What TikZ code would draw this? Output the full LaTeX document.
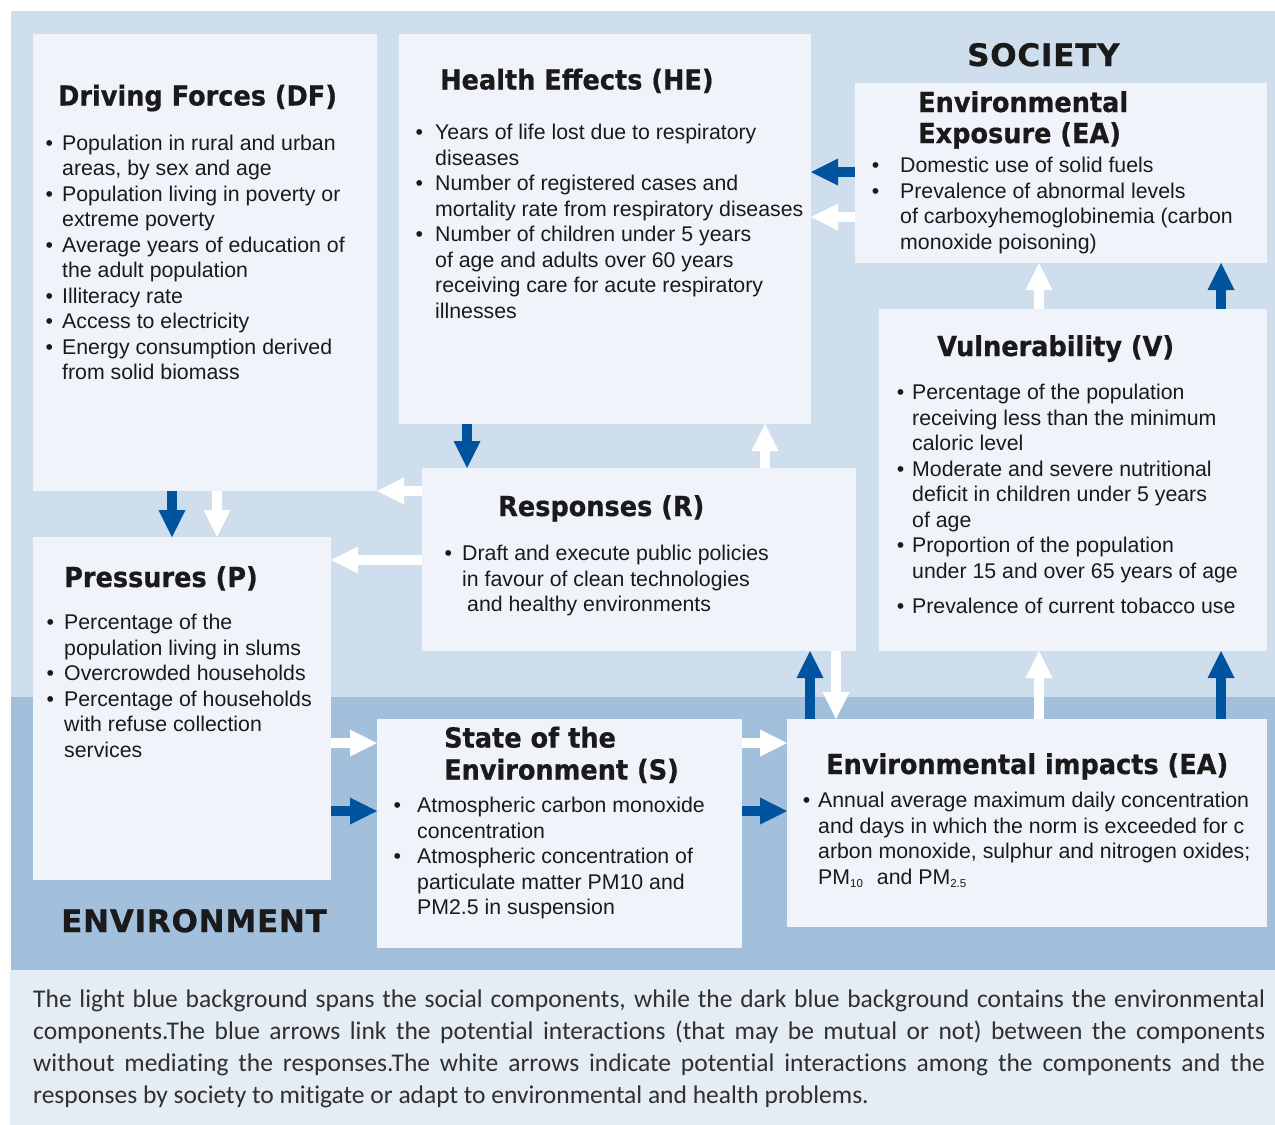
\documentclass[tikz,border=0pt]{standalone}
\usepackage{fontspec}
\setmainfont{Liberation Sans}
\newfontfamily\ttlfont{DejaVu Sans}[FakeStretch=0.93, BoldFeatures={FakeBold=0.7}]
\newfontfamily\hdfont{DejaVu Sans}[BoldFeatures={FakeBold=0.7, LetterSpace=2.5}]
\newfontfamily\capfont{Carlito}[Ligatures=CommonOff]
\usetikzlibrary{arrows.meta,calc}
\definecolor{panellight}{HTML}{CFDEEC}
\definecolor{paneldark}{HTML}{A2C0DC}
\definecolor{boxfill}{HTML}{F0F4FA}
\definecolor{arrblue}{HTML}{00539F}
\definecolor{capbg}{HTML}{E4ECF4}
\definecolor{txt}{HTML}{1A1A1A}
\definecolor{captxt}{HTML}{303030}
\newcommand\fs{\rule{0pt}{16pt}}
\newcommand\bl[1]{\llap{\textbullet\hspace{#1pt}}}
\newcommand\sbs[1]{\raisebox{-3pt}{\fontsize{11.5}{11.5}\selectfont #1}}
\begin{document}
\begin{tikzpicture}[x=1pt,y=-1pt,
  box/.style={fill=boxfill, inner sep=0pt, outer sep=0pt, anchor=north west},
  ttl/.style={font=\ttlfont\bfseries\fontsize{27.5}{31}\selectfont, anchor=base west, inner sep=0pt, text=txt},
  hd/.style={font=\hdfont\bfseries\fontsize{31}{31}\selectfont, anchor=base west, inner sep=0pt, text=txt},
  lst/.style={font=\fontsize{21.3}{25.5}\selectfont, anchor=north west, inner sep=0pt, align=left, text=txt},
  barr/.style={draw=arrblue, line width=10pt, line cap=butt, -{Triangle[length=27pt,width=27pt,line width=0pt]}},
  warr/.style={barr, draw=white}]
\useasboundingbox (0,0) rectangle (1275,1125);
\fill[white] (0,0) rectangle (1275,1125);
\fill[panellight] (11,11) rectangle (1275,697);
\fill[paneldark] (11,697) rectangle (1275,970);
\fill[capbg] (10,970) rectangle (1275,1125);

% boxes
\node[box, minimum width=344pt, minimum height=457pt] (DF) at (33,34) {};
\node[box, minimum width=412pt, minimum height=390pt] (HE) at (399,34) {};
\node[box, minimum width=412pt, minimum height=180pt] (EA) at (855,83) {};
\node[box, minimum width=388pt, minimum height=342pt] (V) at (879,309) {};
\node[box, minimum width=434pt, minimum height=183pt] (R) at (422,468) {};
\node[box, minimum width=298pt, minimum height=343pt] (P) at (33,537) {};
\node[box, minimum width=365pt, minimum height=229pt] (S) at (377,719) {};
\node[box, minimum width=480pt, minimum height=208pt] (EI) at (787,719) {};

% headings
\node[hd] (soc) at (967,66) {SOCIETY};
\node[hd] (env) at (61,932) {ENVIRONMENT};

% titles
\node[ttl] (DFt) at (58,105.5) {Driving Forces (DF)};
\node[ttl] (HEt) at (440,89.5) {Health Effects (HE)};
\node[ttl] (EAt1) at (918,112) {Environmental};
\node[ttl] (EAt2) at (918,143) {Exposure (EA)};
\node[ttl] (Vt) at (937,356) {Vulnerability (V)};
\node[ttl] (Rt) at (498,516) {Responses (R)};
\node[ttl] (Pt) at (64,587) {Pressures (P)};
\node[ttl] (St1) at (444,747.5) {State of the};
\node[ttl] (St2) at (444,779.5) {Environment (S)};
\node[ttl] (EIt) at (826,774) {Environmental impacts (EA)};

% lists
\node[lst] (DFl) at (62,134) {\fs\bl{9}Population in rural and urban\\
areas, by sex and age\\
\bl{9}Population living in poverty or\\
extreme poverty\\
\bl{9}Average years of education of\\
the adult population\\
\bl{9}Illiteracy rate\\
\bl{9}Access to electricity\\
\bl{9}Energy consumption derived\\
from solid biomass};

\node[lst] (HEl) at (435,123.5) {\fs\bl{12}Years of life lost due to respiratory\\
diseases\\
\bl{12}Number of registered cases and\\
mortality rate from respiratory diseases\\
\bl{12}Number of children under 5 years\\
of age and adults over 60 years\\
receiving care for acute respiratory\\
illnesses};

\node[lst] (EAl) at (900,156.5) {\fs\bl{21}Domestic use of solid fuels\\
\bl{21}Prevalence of abnormal levels\\
of carboxyhemoglobinemia (carbon\\
monoxide poisoning)};

\node[lst] (Vl) at (912,383.5) {\fs\bl{8}Percentage of the population\\
receiving less than the minimum\\
caloric level\\
\bl{8}Moderate and severe nutritional\\
deficit in children under 5 years\\
of age\\
\bl{8}Proportion of the population\\
under 15 and over 65 years of age\\[10pt]
\bl{8}Prevalence of current tobacco use};

\node[lst] (Rl) at (462,544.5) {\fs\bl{10}Draft and execute public policies\\
in favour of clean technologies\\
\hspace*{5pt}and healthy environments};

\node[lst] (Pl) at (64,613.5) {\fs\bl{10}Percentage of the\\
population living in slums\\
\bl{10}Overcrowded households\\
\bl{10}Percentage of households\\
with refuse collection\\
services};

\node[lst] (Sl) at (417,796.5) {\fs\bl{16}Atmospheric carbon monoxide\\
concentration\\
\bl{16}Atmospheric concentration of\\
particulate matter PM10 and\\
PM2.5 in suspension};

\node[lst] (EIl) at (818,791.5) {\fs\bl{8}Annual average maximum daily concentration\\
and days in which the norm is exceeded for c\\
arbon monoxide, sulphur and nitrogen oxides;\\
PM\sbs{10}\hspace{14pt}and PM\sbs{2.5}};

% caption
\node[anchor=north west, inner sep=0pt, text width=1232pt, align=justify,
  font=\capfont\fontsize{25.5}{32}\selectfont, text=captxt] (cap) at (33,988)
  {\rule{0pt}{19pt}The light blue background spans the social components, while the dark blue background contains the environmental\linebreak
  components.The blue arrows link the potential interactions (that may be mutual or not) between the components\linebreak
  without mediating the responses.The white arrows indicate potential interactions among the components and the\linebreak
  responses by society to mitigate or adapt to environmental and health problems.};

% arrows
\draw[barr] ($(DF.south west)+(139,0)$) -- ($(P.north west)+(139,0)$);
\draw[warr] ($(DF.south west)+(184,0)$) -- ($(P.north west)+(184,0)$);
\draw[warr] ($(R.north west)+(0,23)$) -- ($(DF.north east)+(0,457)$);
\draw[warr] ($(R.north west)+(0,92)$) -- ($(P.north east)+(0,23)$);
\draw[barr] ($(HE.south west)+(68,0)$) -- ($(R.north west)+(45,0)$);
\draw[warr] ($(R.north west)+(343,0)$) -- ($(HE.south west)+(366,0)$);
\draw[barr] ($(EA.north west)+(0,89)$) -- ($(HE.north east)+(0,138)$);
\draw[warr] ($(EA.north west)+(0,134)$) -- ($(HE.north east)+(0,183)$);
\draw[warr] ($(V.north west)+(160,0)$) -- ($(EA.south west)+(184,0)$);
\draw[barr] ($(V.north west)+(342,0)$) -- ($(EA.south west)+(366,0)$);
\draw[barr] ($(EI.north west)+(23,0)$) -- ($(R.south west)+(388,0)$);
\draw[warr] ($(R.south west)+(414,0)$) -- ($(EI.north west)+(49,0)$);
\draw[warr] ($(EI.north west)+(252,0)$) -- ($(V.south west)+(160,0)$);
\draw[barr] ($(EI.north west)+(434,0)$) -- ($(V.south west)+(342,0)$);
\draw[warr] ($(P.north east)+(0,206)$) -- ($(S.north west)+(0,24)$);
\draw[barr] ($(P.north east)+(0,274)$) -- ($(S.north west)+(0,92)$);
\draw[warr] ($(S.north east)+(0,24)$) -- ($(EI.north west)+(0,24)$);
\draw[barr] ($(S.north east)+(0,92)$) -- ($(EI.north west)+(0,92)$);
\end{tikzpicture}
\end{document}
